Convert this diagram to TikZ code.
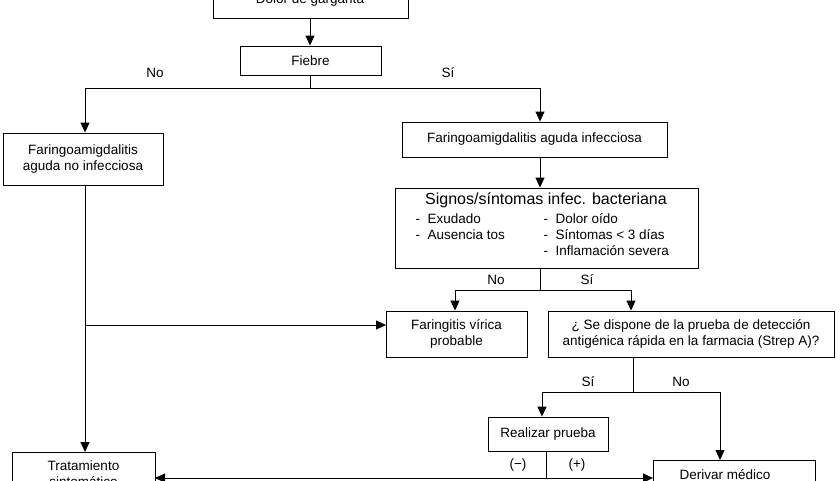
\documentclass[tikz,border=0pt]{standalone}
\usepackage{fontspec}
\setmainfont{Liberation Sans}
\usetikzlibrary{arrows.meta}
\begin{document}
\begin{tikzpicture}[x=1pt,y=-1pt,
  box/.style={draw,line width=0.9pt,inner sep=0pt,align=center,font=\fontsize{13.5}{16}\selectfont},
  lab/.style={font=\fontsize{13.5}{16}\selectfont},
  ar/.style={-{Triangle[length=10pt,width=9pt]},line width=0.9pt},
  ln/.style={line width=0.9pt}]
\useasboundingbox (0,0) rectangle (840,480);
\clip (0,0) rectangle (840,480);
\draw[ln] (213,-20) rectangle (408,18);
\node[lab] (dolor) at (310,0) {Dolor de garganta};
\coordinate (dolorb) at (310,18);
\node[box,minimum width=141pt,minimum height=29pt] (fiebre) at (310.5,60.5) {Fiebre};
\node[box,minimum width=160pt,minimum height=52pt] (noinf) at (83,159) {Faringoamigdalitis\\aguda no infecciosa};
\node[box,minimum width=265pt,minimum height=35pt] (inf) at (534.5,139.5) {Faringoamigdalitis aguda infecciosa};
\node[draw,line width=0.9pt,minimum width=303pt,minimum height=80pt] (sig) at (546.5,228) {};
\node[lab,font=\fontsize{16}{19}\selectfont] (sigt) at (546,200) {Signos/síntomas infec. bacteriana};
\node[lab,align=left,anchor=north west] (l1) at (412,210) {-\ \ Exudado\\-\ \ Ausencia tos};
\node[lab,align=left,anchor=north west] (l2) at (540,210) {-\ \ Dolor oído\\-\ \ Síntomas < 3 días\\-\ \ Inflamación severa};
\node[box,minimum width=141pt,minimum height=46pt] (vir) at (456.5,334) {Faringitis vírica\\probable};
\node[box,minimum width=286pt,minimum height=46pt] (strep) at (691,334) {¿ Se dispone de la prueba de detección\\antigénica rápida en la farmacia (Strep A)?};
\node[box,minimum width=120pt,minimum height=34pt] (real) at (548,434) {Realizar prueba};
\draw[ln] (12,452) rectangle (155,500); \node[lab,align=center] (trat) at (83.5,474) {Tratamiento\\sintomático};
\draw[ln] (653,460) rectangle (815,500); \node[lab] (der) at (725,475) {Derivar médico};
\coordinate (tratr) at (155,478); \coordinate (dert) at (720,460); \coordinate (derl) at (653,478); \coordinate (tratt) at (85,452);
\coordinate (virw) at (386,325);
% connectors
\draw[ar] (dolorb) -- (dolorb |- fiebre.north);
\draw[ln] (dolorb |- fiebre.south) -- (310,88);
\draw[ar] (540,88) -- (85,88) -- (85,0 |- noinf.north);
\draw[ar] (310,88) -- (540,88) -- (540,0 |- inf.north);
\node[lab] (no1) at (155,73) {No}; \node[lab] (si1) at (448,73) {Sí};
\draw[ar] (540,0 |- inf.south) -- (540,0 |- sig.north);
\draw[ln] (540,0 |- sig.south) -- (540,290);
\draw[ar] (540,290) -- (455,290) -- (455,0 |- vir.north);
\draw[ar] (540,290) -- (631,290) -- (631,0 |- vir.north);
\node[lab] (no2) at (496,280) {No}; \node[lab] (si2) at (587,280) {Sí};
\draw[ar] (85,0 |- noinf.south) -- (tratt);
\draw[ar] (85,325) -- (virw);
\draw[ln] (633,0 |- strep.south) -- (633,392);
\draw[ar] (633,392) -- (542,392) -- (542,0 |- real.north);
\draw[ar] (633,392) -- (720,392) -- (dert);
\node[lab] (si3) at (588,382) {Sí}; \node[lab] (no3) at (681,382) {No};
\draw[ln] (546,0 |- real.south) -- (546,478);
\draw[ar] (546,478) -- (tratr);
\draw[ar] (546,478) -- (derl);
\node[lab] (neg) at (518,465) {(−)}; \node[lab] (pos) at (577,465) {(+)};
\end{tikzpicture}
\end{document}
